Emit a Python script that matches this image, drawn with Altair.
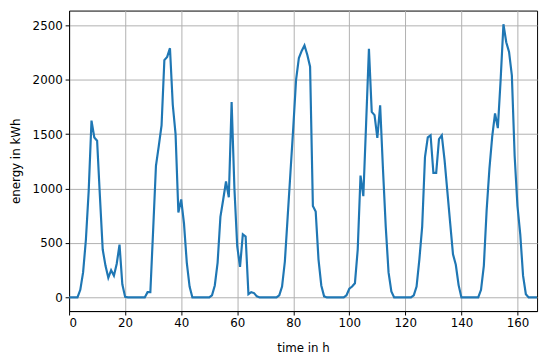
import altair as alt
import pandas as pd

hours = list(range(168))
energy = [
    0, 0, 0, 0, 70, 230, 530, 980, 1625, 1470,
    1440, 930, 440, 290, 180, 250, 200, 310, 485, 120,
    5, 0, 0, 0, 0, 0, 0, 0, 48, 48,
    620, 1210, 1390, 1580, 2180, 2210, 2290, 1770, 1500, 780,
    900, 680, 320, 100, 0, 0, 0, 0, 0, 0,
    0, 20, 110, 320, 740, 900, 1065, 920, 1795, 1000,
    470, 280, 580, 560, 30, 48, 40, 10, 0, 0,
    0, 0, 0, 0, 0, 20, 100, 330, 740, 1150,
    1560, 2000, 2200, 2265, 2315, 2230, 2120, 840, 790, 350,
    110, 10, 0, 0, 0, 0, 0, 0, 0, 20,
    80, 100, 130, 440, 1120, 930, 1600, 2285, 1705, 1675,
    1465, 1765, 1185, 650, 230, 55, 0, 0, 0, 0,
    0, 0, 0, 20, 100, 350, 650, 1290, 1470, 1490,
    1145, 1145, 1455, 1490, 1260, 970, 680, 396, 300, 113,
    0, 0, 0, 0, 0, 0, 0, 70, 290, 800,
    1185, 1480, 1690, 1556, 2000, 2510, 2345, 2256, 2040, 1300,
    840, 580, 200, 30, 0, 0, 0, 0,
]
x_ticks = [0, 20, 40, 60, 80, 100, 120, 140, 160]
y_ticks = [0, 500, 1000, 1500, 2000, 2500]

df = pd.DataFrame({"time": hours, "energy": energy})

FONT = "DejaVu Sans"

chart = alt.Chart(df).mark_line(color="#1f77b4", strokeWidth=2.2, clip=True).encode(
    x=alt.X(
        "time:Q",
        scale=alt.Scale(domain=[0, 167], nice=False, zero=False),
        axis=alt.Axis(
            values=x_ticks,
            format="d",
            title="time in h",
            titleBaseline="middle",
            titleY=37,
        ),
    ),
    y=alt.Y(
        "energy:Q",
        scale=alt.Scale(domain=[-125.5, 2635.5], nice=False, zero=False),
        axis=alt.Axis(
            values=y_ticks,
            format="d",
            title="energy in kWh",
            titleBaseline="middle",
            titleX=-54,
        ),
    ),
).properties(
    width=475,
    height=305,
    autosize=alt.AutoSizeParams(type="none"),
    padding={"left": 62, "top": 0, "right": 5, "bottom": 45},
).configure_view(
    stroke="black", strokeWidth=1
).configure_axis(
    labelFont=FONT,
    titleFont=FONT,
    labelFontSize=12,
    titleFontSize=12,
    titleFontWeight="normal",
    labelColor="black",
    titleColor="black",
    tickColor="black",
    tickSize=4,
    domainColor="black",
    gridColor="#b0b0b0",
    gridWidth=1,
    labelPadding=3,
)

chart.save("out.html", embed_options={"renderer": "svg", "actions": False})
